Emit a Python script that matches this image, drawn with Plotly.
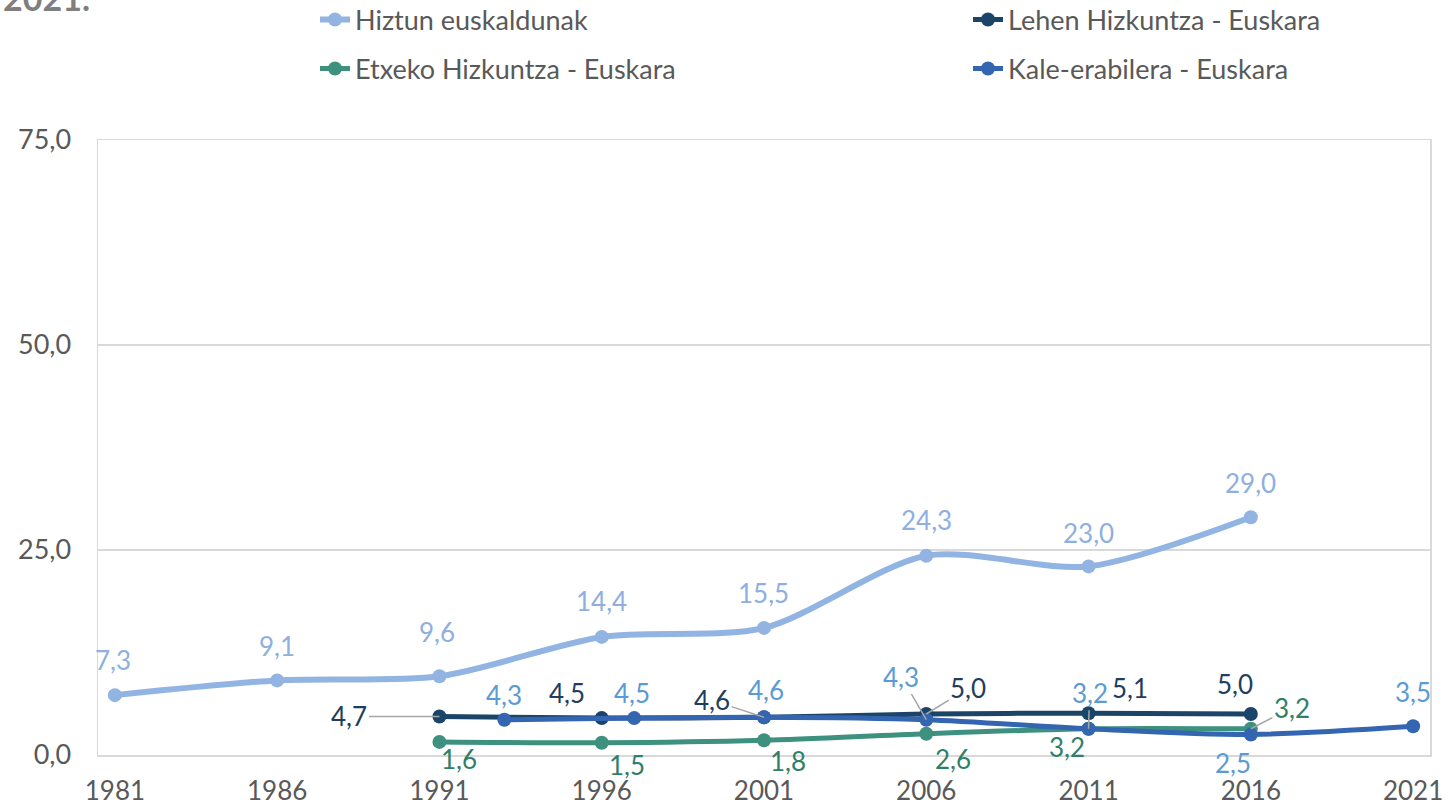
import plotly.graph_objects as go

# ---- data ----
years_axis = [1981, 1986, 1991, 1996, 2001, 2006, 2011, 2016, 2021]
years_hiztun = [1981, 1986, 1991, 1996, 2001, 2006, 2011, 2016]
hiztun = [7.3, 9.1, 9.6, 14.4, 15.5, 24.3, 23.0, 29.0]
years_lehen = [1991, 1996, 2001, 2006, 2011, 2016]
lehen = [4.7, 4.5, 4.6, 5.0, 5.1, 5.0]
years_etxeko = [1991, 1996, 2001, 2006, 2011, 2016]
etxeko = [1.6, 1.5, 1.8, 2.6, 3.2, 3.2]
years_kale = [1993, 1997, 2001, 2006, 2011, 2016, 2021]
kale = [4.3, 4.5, 4.6, 4.3, 3.2, 2.5, 3.5]
y_ticks = [0, 25, 50, 75]

names = ["Hiztun euskaldunak", "Lehen Hizkuntza - Euskara",
         "Etxeko Hizkuntza - Euskara", "Kale-erabilera - Euskara"]

# ---- styles ----
FONT = "Lato"
GRAY = "#595959"
line_colors = ["#92B4E2", "#1B4469", "#3D917E", "#3465B0"]
label_colors = ["#8EAFDF", "#1F3E5E", "#2F7F69", "#5B9BD5"]
widths = [6, 5, 5, 5]
legend_ids = ["legend", "legend2", "legend3", "legend4"]
# legend anchor positions in pixels (left of entry, vertical centre)
legend_px = [(315, 20), (968, 20), (315, 69), (968, 69)]

PL, PT, PW, PH = 98, 140, 1332, 615  # plot area in pixels

# label offsets in pixels (dx, dy down), and whether a leader line is drawn
offsets = [
    [(-2, -35, 0), (0, -34, 0), (-2, -44, 0), (0, -36, 0), (-1, -35, 0), (0, -36, 0), (0, -33, 0), (0, -34, 0)],
    [(-90, 0, 1), (-35, -25, 0), (-52, -17, 1), (42, -26, 1), (41, -25, 0), (-16, -30, 0)],
    [(20, 17, 0), (25, 22, 0), (24, 21, 0), (27, 25, 0), (-22, 18, 0), (41, -21, 1)],
    [(0, -25, 0), (-2, -25, 0), (2, -27, 0), (-25, -43, 1), (1, -36, 1), (-18, 28, 0), (0, -34, 0)],
]

series = [(years_hiztun, hiztun), (years_lehen, lehen), (years_etxeko, etxeko), (years_kale, kale)]

fig = go.Figure()
annotations = []
for i, (xs, ys) in enumerate(series):
    fig.add_trace(go.Scatter(
        x=xs, y=ys, name=names[i], mode="lines+markers",
        line=dict(color=line_colors[i], width=widths[i], shape="spline", smoothing=0.8),
        marker=dict(size=14, color=line_colors[i]),
        legend=legend_ids[i], hoverinfo="skip",
    ))
    for (x, y), (dx, dy, lead) in zip(zip(xs, ys), offsets[i]):
        annotations.append(dict(
            x=x, y=y, xref="x", yref="y",
            text=f"{y:.1f}".replace(".", ","),
            showarrow=True, ax=dx, ay=dy, arrowhead=0, standoff=0,
            arrowwidth=1.5,
            arrowcolor="#A6A6A6" if lead else "rgba(0,0,0,0)",
            font=dict(family=FONT, size=26, color=label_colors[i]),
        ))

# cut-off title fragment at top-left
annotations.append(dict(
    x=(92 - PL) / PW, y=(PT + PH - (-2)) / PH, xref="paper", yref="paper",
    xanchor="right", yanchor="middle",
    text="<b>2021.</b>", showarrow=False,
    font=dict(family=FONT, size=34, color="#7F7F7F"),
))

legends = {}
for lid, (px, py) in zip(legend_ids, legend_px):
    legends[lid] = dict(
        orientation="h", xanchor="left", yanchor="middle",
        x=(px - PL) / PW, y=(PT + PH - py) / PH,
        font=dict(family=FONT, size=27, color=GRAY),
        bgcolor="rgba(0,0,0,0)", itemclick=False, itemdoubleclick=False,
    )

fig.update_layout(
    width=1453, height=807,
    margin=dict(l=PL, r=1453 - PL - PW, t=PT, b=807 - PT - PH, autoexpand=False),
    paper_bgcolor="white", plot_bgcolor="white",
    separators=",.",
    font=dict(family=FONT, size=26, color=GRAY),
    showlegend=True,
    annotations=annotations,
    xaxis=dict(
        range=[1980.48, 2021.52], tickmode="array", tickvals=years_axis,
        ticktext=[str(v) for v in years_axis],
        showgrid=False, zeroline=False, automargin=False,
        showline=True, mirror=True, linecolor="#D9D9D9", linewidth=1.5,
        ticks="outside", ticklen=12, tickcolor="rgba(0,0,0,0)",
        tickfont=dict(family=FONT, size=26, color=GRAY),
    ),
    yaxis=dict(
        range=[0, 75], tickmode="array", tickvals=y_ticks, tickformat=".1f",
        showgrid=True, gridcolor="#D9D9D9", gridwidth=1.5, zeroline=False,
        automargin=False,
        showline=True, mirror=True, linecolor="#D9D9D9", linewidth=1.5,
        ticks="outside", ticklen=20, tickcolor="rgba(0,0,0,0)",
        tickfont=dict(family=FONT, size=27, color=GRAY),
    ),
    **legends,
)

fig.write_html(
    "out.html",
    config={"displayModeBar": False, "staticPlot": True},
    post_script="document.body.style.margin='0';document.body.style.overflow='hidden';",
)
